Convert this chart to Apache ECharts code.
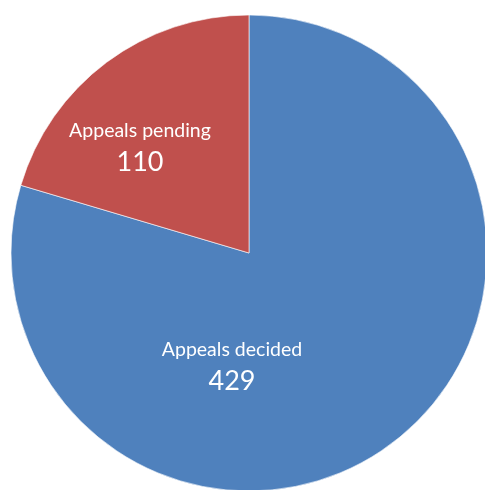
<!DOCTYPE html>
<html>
<head>
<meta charset="utf-8">
<script src="https://cdn.jsdelivr.net/npm/echarts@6/dist/echarts.min.js"></script>
<style>
  html, body { margin: 0; padding: 0; background: #fff; }
  #chart { width: 485px; height: 490px; }
</style>
</head>
<body>
<div id="chart"></div>
<script>
const categories = ["Appeals decided", "Appeals pending"];
const counts = [429, 110];
const sliceColors = ["#4F81BD", "#C0504D"];
// where the labels sit (Excel-like placement, not the slice midpoint)
const labelSpots = [[232, 366], [140, 147]];

const chart = echarts.init(document.getElementById("chart"));

const option = {
  animation: false,
  color: sliceColors,
  series: [
    {
      type: "pie",
      center: [249, 253],
      radius: 238,
      startAngle: 90,
      clockwise: true,
      data: categories.map((name, i) => ({ name: name, value: counts[i] })),
      itemStyle: {
        borderColor: "#fff",
        borderWidth: 0.6,
      },
      label: {
        show: true,
        position: "inside",
        formatter: "{n|{b}}\n{v|{c}}",
        color: "#fff",
        fontFamily: "Lato",
        rich: {
          n: { fontSize: 19.5, lineHeight: 30, color: "#fff", fontFamily: "Lato" },
          v: { fontSize: 27, lineHeight: 32, color: "#fff", fontFamily: "Lato" },
        },
      },
      labelLine: { show: false },
      labelLayout: function (params) {
        const spot = labelSpots[params.dataIndex];
        return { x: spot[0], y: spot[1], align: "center", verticalAlign: "middle" };
      },
      emphasis: { disabled: true },
    },
  ],
};

chart.setOption(option);
</script>
</body>
</html>
